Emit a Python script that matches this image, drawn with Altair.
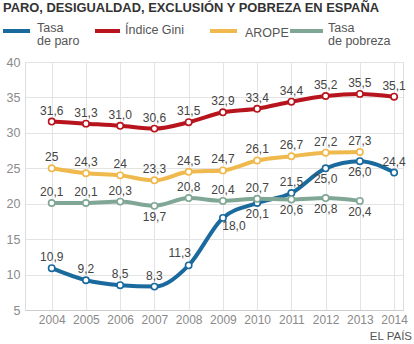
import altair as alt
import pandas as pd

years = list(range(2004, 2015))
paro = [10.9, 9.2, 8.5, 8.3, 11.3, 18.0, 20.1, 21.5, 25.0, 26.0, 24.4]
paro_lbl = ["10,9", "9,2", "8,5", "8,3", "11,3", "18,0", "20,1", "21,5", "25,0", "26,0", "24,4"]
paro_pos = ["up", "up", "up", "up", "upleft", "downright", "down", "up", "down", "down", "up"]
gini = [31.6, 31.3, 31.0, 30.6, 31.5, 32.9, 33.4, 34.4, 35.2, 35.5, 35.1]
gini_lbl = ["31,6", "31,3", "31,0", "30,6", "31,5", "32,9", "33,4", "34,4", "35,2", "35,5", "35,1"]
gini_pos = ["up"] * 11
arope_years = list(range(2004, 2014))
arope = [25, 24.3, 24, 23.3, 24.5, 24.7, 26.1, 26.7, 27.2, 27.3]
arope_lbl = ["25", "24,3", "24", "23,3", "24,5", "24,7", "26,1", "26,7", "27,2", "27,3"]
arope_pos = ["up"] * 10
pob_years = list(range(2004, 2014))
pobreza = [20.1, 20.1, 20.3, 19.7, 20.8, 20.4, 20.7, 20.6, 20.8, 20.4]
pob_lbl = ["20,1", "20,1", "20,3", "19,7", "20,8", "20,4", "20,7", "20,6", "20,8", "20,4"]
pob_pos = ["up", "up", "up", "down", "up", "up", "up", "down", "down", "down"]

series = ["Tasa de paro", "Índice Gini", "AROPE", "Tasa de pobreza"]
colors = ["#1a6a9e", "#b8141e", "#f0b94d", "#80a795"]

rows = []
for name, ys, vs, ls, ps in [
    ("Tasa de paro", years, paro, paro_lbl, paro_pos),
    ("Índice Gini", years, gini, gini_lbl, gini_pos),
    ("AROPE", arope_years, arope, arope_lbl, arope_pos),
    ("Tasa de pobreza", pob_years, pobreza, pob_lbl, pob_pos),
]:
    for y, v, l, p in zip(ys, vs, ls, ps):
        rows.append({"serie": name, "year": y, "value": v, "label": l, "pos": p})
df = pd.DataFrame(rows)

FONT = "Liberation Sans"
W, H = 378, 248

x = alt.X("year:Q", scale=alt.Scale(domain=[2003.22, 2014.26], nice=False, zero=False),
          axis=alt.Axis(values=years, format="d", title=None, grid=True, gridColor="#e3e3e3",
                        domainColor="#cccccc", ticks=False, labelColor="#8a8a8a",
                        labelFontSize=12, labelPadding=4, labelFont=FONT))
y = alt.Y("value:Q", scale=alt.Scale(domain=[5, 40], nice=False, zero=False),
          axis=alt.Axis(values=[5, 10, 15, 20, 25, 30, 35, 40], title=None, grid=True,
                        gridColor="#e3e3e3", domainColor="#dddddd", ticks=False,
                        labelColor="#8a8a8a", labelFontSize=12.5, labelPadding=5, labelFont=FONT))
color = alt.Color("serie:N", scale=alt.Scale(domain=series, range=colors), legend=None)

base = alt.Chart(df)
lines = base.mark_line(strokeWidth=4, interpolate="monotone").encode(x=x, y=y, color=color, detail="serie:N")
points = base.mark_point(filled=True, fill="white", size=40, strokeWidth=1.6, opacity=1).encode(
    x=x, y=y, stroke=alt.Stroke("serie:N", scale=alt.Scale(domain=series, range=colors), legend=None))

offsets = {"up": (0, -11), "down": (0, 11), "upleft": (-9, -12), "downright": (11, 8)}
texts = []
for p, (ddx, ddy) in offsets.items():
    texts.append(base.transform_filter(alt.datum.pos == p).mark_text(
        fontSize=12, font=FONT, color="#444444", dx=ddx, dy=ddy, baseline="middle").encode(
        x=x, y=y, text="label:N"))

# Legend & titles (decoration)
title = alt.Chart(pd.DataFrame({"t": ["PARO, DESIGUALDAD, EXCLUSIÓN Y POBREZA EN ESPAÑA"]})).mark_text(
    align="left", baseline="top", fontSize=12.9, fontWeight="bold", font=FONT, color="#333333").encode(
    text="t:N", x=alt.value(-22), y=alt.value(-60))

leg_sym_x = [-22, 70, 185, 265]
leg_sym_x2 = [5, 95, 212, 298]
leg_lbl_x = [12, 100, 220, 303]
legend_layers = []
for i, s in enumerate(series):
    legend_layers.append(alt.Chart(pd.DataFrame({"a": [0]})).mark_rule(strokeWidth=4, color=colors[i]).encode(
        x=alt.value(leg_sym_x[i]), x2=alt.value(leg_sym_x2[i]), y=alt.value(-31)))
leg_text = [["Tasa", "de paro"], ["Índice Gini"], ["AROPE"], ["Tasa", "de pobreza"]]
leg_text_y = [-34, -34, -31, -34]
for i, t in enumerate(leg_text):
    legend_layers.append(alt.Chart(pd.DataFrame({"a": [0]})).mark_text(
        align="left", baseline="middle", fontSize=12.5, font=FONT, color="#555555", lineHeight=13).encode(
        x=alt.value(leg_lbl_x[i] + 0), y=alt.value(leg_text_y[i] + (0 if len(t) > 1 else 2)),
        text=alt.value(t)))

source = alt.Chart(pd.DataFrame({"s": ["EL PAÍS"]})).mark_text(
    align="right", baseline="middle", fontSize=11.5, font=FONT, color="#555555").encode(
    text="s:N", x=alt.value(W + 9), y=alt.value(H + 27))

chart = alt.layer(lines, points, *texts, title, *legend_layers, source).properties(
    width=W, height=H,
    autosize=alt.AutoSizeParams(type="none"),
    padding={"left": 25, "top": 62, "right": 11, "bottom": 34},
).configure_view(stroke=None).configure(background="white")

chart.save("out.html", embed_options={"renderer": "svg", "actions": False})
